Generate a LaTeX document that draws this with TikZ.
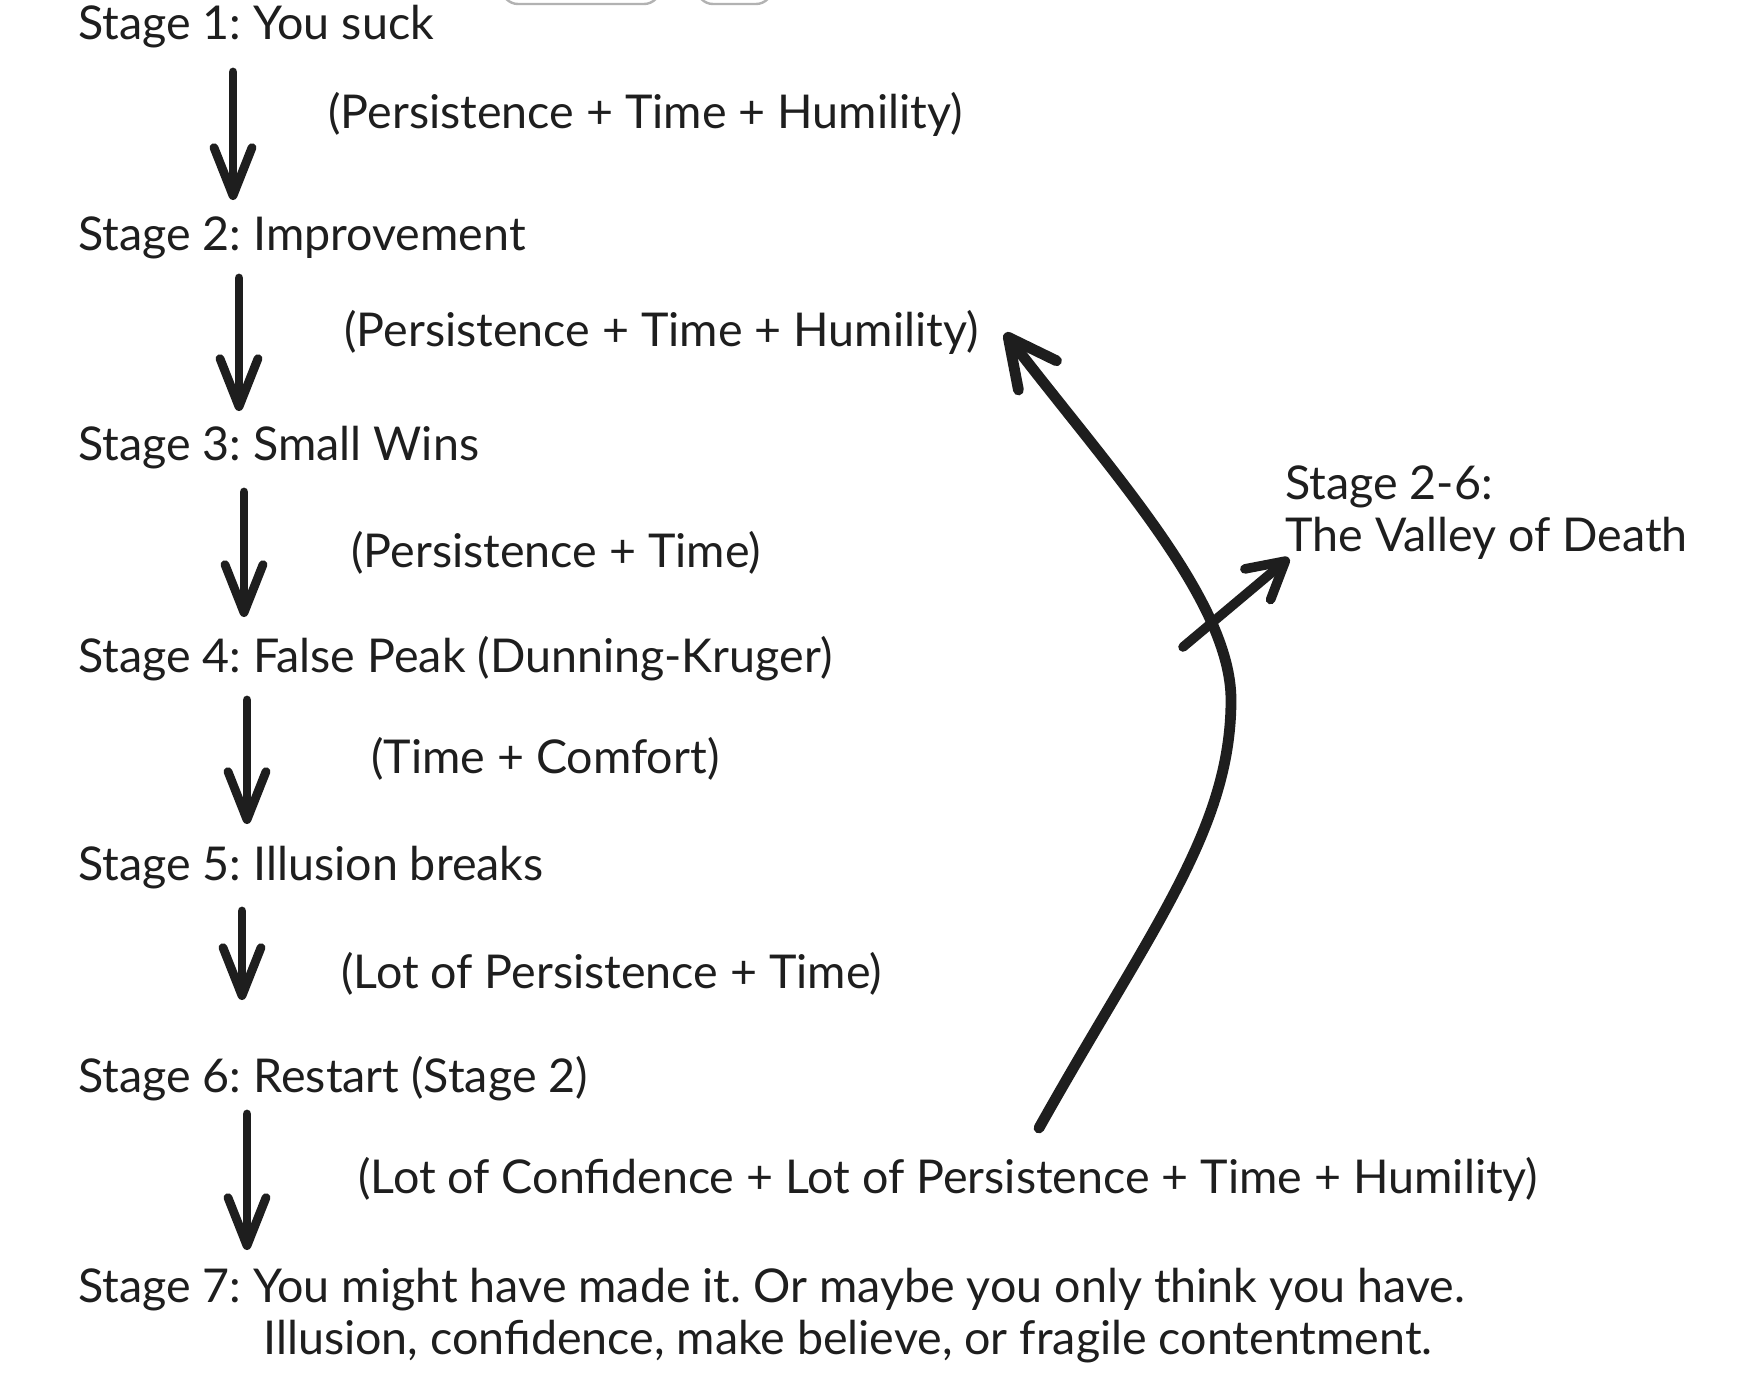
\documentclass[tikz,border=0pt]{standalone}
\usepackage{fontspec}
\setmainfont{Lato}
\frenchspacing
\usetikzlibrary{arrows.meta,calc}
\definecolor{ink}{HTML}{1E1E1E}
\begin{document}
\begin{tikzpicture}[x=0.5pt,y=-0.5pt,
  txt/.style={anchor=west,inner sep=0pt,text=ink,font=\fontsize{23.3}{26}\selectfont},
  dn/.style={draw=ink,line width=4.4pt,line cap=round,-{Straight Barb[length=24pt,width=19pt,round]}},
  bigarr/.style={draw=ink,line width=5.4pt,line cap=round,-{Straight Barb[length=24pt,width=24pt,round]}},
  smallarr/.style={draw=ink,line width=4.8pt,line cap=round,-{Straight Barb[length=18pt,width=20pt,round]}},
  ui/.style={draw=black!30,line width=1.2pt,rounded corners=8pt}]
\useasboundingbox[fill=white] (0,0) rectangle (1742,1376);
% cropped UI fragments at the top edge
\draw[ui] (502,-30) rectangle (660,4);
\draw[ui] (697,-30) rectangle (772,4);
% stages
\node[txt] (s1) at (78,27) {Stage 1: You suck};
\node[txt] (l1) at (328,114) {(Persistence + Time + Humility)};
\node[txt] (s2) at (78,238) {Stage 2: Improvement};
\node[txt] (l2) at (344,332) {(Persistence + Time + Humility)};
\node[txt] (s3) at (78,448) {Stage 3: Small Wins};
\node[txt] (l3) at (351,553) {(Persistence + Time)};
\node[txt] (s4) at (78,659) {Stage 4: False Peak (Dunning-Kruger)};
\node[txt] (l4) at (371,759) {(Time + Comfort)};
\node[txt] (s5) at (78,868) {Stage 5: Illusion breaks};
\node[txt] (l5) at (341,974) {(Lot of Persistence + Time)};
\node[txt] (s6) at (78,1079) {Stage 6: Restart (Stage 2)};
\node[txt] (l6) at (358,1179) {(Lot of Confidence + Lot of Persistence + Time + Humility)};
\node[txt] (s7) at (78,1290) {Stage 7: You might have made it. Or maybe you only think you have.};
\node[txt] (s7b) at (263,1342) {Illusion, confidence, make believe, or fragile contentment.};
\node[txt,align=left] (valley) at (1285,513) {Stage 2-6:\\The Valley of Death};
% down arrows
\draw[dn] ($(s1.west)+(155,45)$) -- ($(s2.west)+(155,-38)$);
\draw[dn] ($(s2.west)+(161,40)$) -- ($(s3.west)+(161,-37)$);
\draw[dn] ($(s3.west)+(166,44)$) -- ($(s4.west)+(166,-42)$);
\draw[dn] ($(s4.west)+(169,41)$) -- ($(s5.west)+(169,-44)$);
\draw[dn] ($(s5.west)+(164,43)$) -- ($(s6.west)+(164,-79)$);
\draw[dn] ($(s6.west)+(169,35)$) -- ($(s7.west)+(169,-40)$);
% big return curve
\coordinate (bend) at (1231,700);
\draw[bigarr] ($(l6.west)+(681,-51)$) .. controls (1150,930) and (1231,830) .. (bend)
  .. controls (1231,600) and (1110,470) .. ($(l2.west)+(661,1)$);
% pointer to valley label
\coordinate (tail) at (1183,647);
\draw[smallarr] (tail) -- ($(valley.west)+(4,45)$);
\end{tikzpicture}
\end{document}
